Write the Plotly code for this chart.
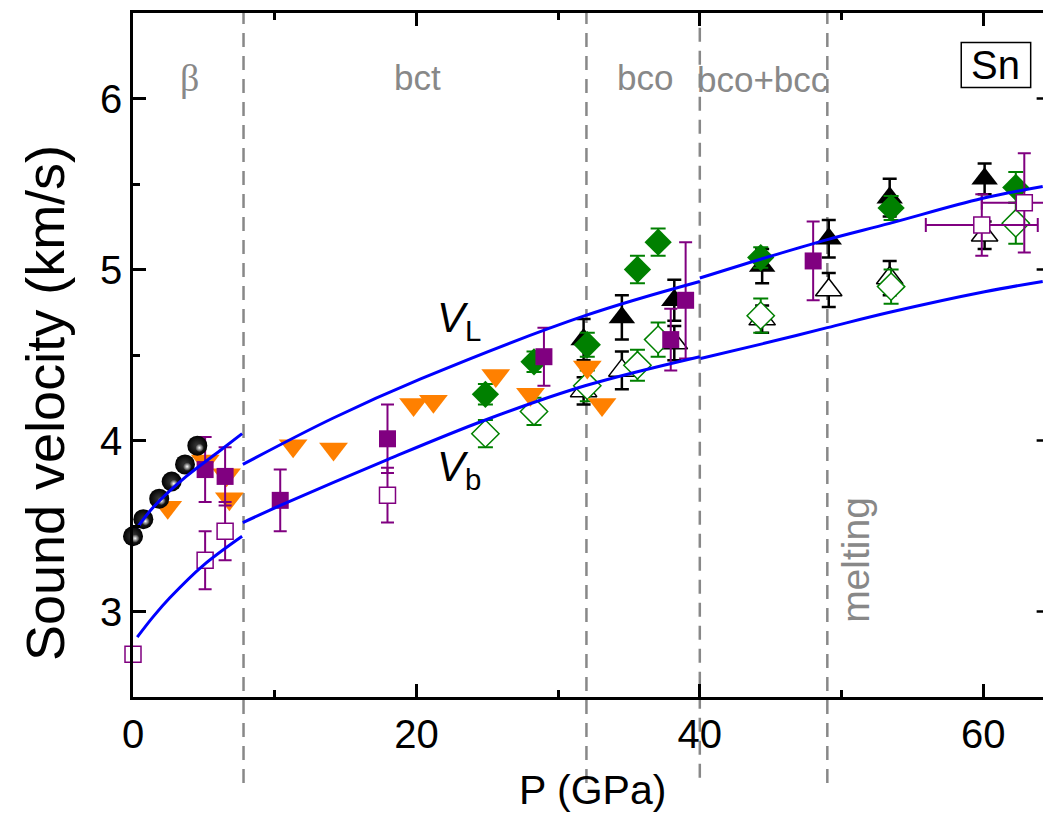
import plotly.graph_objects as go

# ---------------- data ----------------
sphere_p = [0.0, 0.73, 1.85, 2.73, 3.67, 4.54]
sphere_v = [3.44, 3.54, 3.66, 3.76, 3.86, 3.97]

orange_p = [2.45, 5.1, 6.6, 6.8, 11.3, 14.15, 19.8, 21.2, 25.6, 28.05, 32.06, 33.1]
orange_v = [3.61, 3.88, 3.80, 3.66, 3.97, 3.95, 4.21, 4.23, 4.38, 4.27, 4.43, 4.21]

purple_f_p = [5.09, 6.5, 10.39, 17.96, 29.0, 37.95, 39.0, 48.0]
purple_f_v = [3.83, 3.79, 3.65, 4.01, 4.49, 4.59, 4.82, 5.05]
purple_f_e = [0.19, 0.17, 0.18, 0.20, 0.17, 0.18, 0.34, 0.23]

purple_o_p = [0.0, 5.09, 6.5, 17.96, 59.9, 62.9]
purple_o_v = [2.75, 3.30, 3.47, 3.68, 5.26, 5.39]
purple_o_e = [0, 0.17, 0.17, 0.16, 0.18, 0.29]
purple_o_xe = [0, 0, 0, 0, 3.95, 3.0]

black_f_p = [31.8, 34.5, 38.2, 44.4, 49.1, 53.4, 60.1]
black_f_v = [4.59, 4.72, 4.82, 5.02, 5.18, 5.42, 5.53]
black_f_e = [0.12, 0.13, 0.12, 0.10, 0.11, 0.11, 0.09]

black_o_p = [31.8, 34.5, 38.2, 44.4, 49.1, 53.4, 60.1]
black_o_v = [4.29, 4.41, 4.57, 4.71, 4.88, 4.95, 5.20]
black_o_e = [0.08, 0.11, 0.10, 0.08, 0.10, 0.10, 0.08]

green_f_p = [24.87, 28.3, 32.06, 35.6, 37.06, 44.3, 53.5, 62.3]
green_f_v = [4.27, 4.46, 4.56, 5.00, 5.16, 5.07, 5.36, 5.48]
green_f_e = [0.06, 0.06, 0.07, 0.08, 0.08, 0.06, 0.07, 0.09]

green_o_p = [24.87, 28.3, 32.06, 35.6, 37.06, 44.3, 53.5, 62.3]
green_o_v = [4.04, 4.17, 4.32, 4.44, 4.59, 4.73, 4.90, 5.27]
green_o_e = [0.08, 0.08, 0.09, 0.09, 0.10, 0.10, 0.10, 0.12]

# model curves (V_L and V_b), piecewise per phase region
vl1_p = [0.3, 1.43, 3.76, 6.13, 7.7]
vl1_v = [3.49, 3.61, 3.79, 3.94, 4.04]
vb1_p = [0.3, 1.43, 2.6, 4.96, 7.7]
vb1_v = [2.85, 2.97, 3.08, 3.27, 3.44]
vl2_p = [7.75, 14.1, 20.3, 31.9, 40.0]
vl2_v = [3.86, 4.13, 4.36, 4.73, 4.93]
vb2_p = [7.75, 10.4, 18.0, 24.87, 31.9, 40.0]
vb2_v = [3.52, 3.62, 3.89, 4.12, 4.32, 4.49]
vl3_p = [40.0, 44.4, 49.0, 53.4, 59.9, 64.2]
vl3_v = [4.95, 5.063, 5.175, 5.27, 5.415, 5.485]
vb3_p = [40.05, 44.4, 49.0, 53.4, 60.1, 64.2]
vb3_v = [4.48, 4.565, 4.66, 4.75, 4.87, 4.93]

boundaries = [7.8, 32.0, 40.0, 49.0]
boundary_bottoms = [-0.1257, -0.1257, -0.118, -0.1257]

x_ticks = [0, 20, 40, 60]
y_ticks = [3, 4, 5, 6]

PURPLE = "#800080"
GREEN = "#008000"
ORANGE = "#FF8000"
BLUE = "#0000FF"
GRAY = "#888888"
FONT = "Liberation Sans, Arial, sans-serif"

fig = go.Figure()

# black filled triangles
fig.add_trace(go.Scatter(
    x=black_f_p, y=black_f_v, mode="markers", cliponaxis=False,
    marker=dict(symbol="triangle-up", size=23, color="black"),
    error_y=dict(type="data", array=black_f_e, color="black", thickness=2.5, width=7)))
# black open triangles (white-filled)
fig.add_trace(go.Scatter(
    x=black_o_p, y=black_o_v, mode="markers", cliponaxis=False,
    marker=dict(symbol="triangle-up", size=23, color="white", line=dict(color="black", width=1.5)),
    error_y=dict(type="data", array=black_o_e, color="black", thickness=2.5, width=7)))
# green open diamonds (white-filled so error bars stop at the outline)
fig.add_trace(go.Scatter(
    x=green_o_p, y=green_o_v, mode="markers", cliponaxis=False,
    marker=dict(symbol="diamond", size=21, color="white", line=dict(color=GREEN, width=1.5)),
    error_y=dict(type="data", array=green_o_e, color=GREEN, thickness=2, width=7.5)))
# green filled diamonds
fig.add_trace(go.Scatter(
    x=green_f_p, y=green_f_v, mode="markers", cliponaxis=False,
    marker=dict(symbol="diamond", size=21, color=GREEN),
    error_y=dict(type="data", array=green_f_e, color=GREEN, thickness=2, width=7.5)))
# orange down triangles
fig.add_trace(go.Scatter(
    x=orange_p, y=orange_v, mode="markers", cliponaxis=False,
    marker=dict(symbol="triangle-down", size=25, color=ORANGE)))
# purple filled squares
fig.add_trace(go.Scatter(
    x=purple_f_p, y=purple_f_v, mode="markers", cliponaxis=False,
    marker=dict(symbol="square", size=17, color=PURPLE),
    error_y=dict(type="data", array=purple_f_e, color=PURPLE, thickness=2, width=6.5)))
# purple open squares
fig.add_trace(go.Scatter(
    x=purple_o_p, y=purple_o_v, mode="markers", cliponaxis=False,
    marker=dict(symbol="square", size=16, color="white", line=dict(color=PURPLE, width=1.5)),
    error_y=dict(type="data", array=purple_o_e, color=PURPLE, thickness=2, width=6.5),
    error_x=dict(type="data", array=purple_o_xe, color=PURPLE, thickness=2, width=7)))
# black spheres
fig.add_trace(go.Scatter(
    x=sphere_p, y=sphere_v, mode="markers", cliponaxis=False,
    marker=dict(symbol="circle", size=20, color="black",
                gradient=dict(type="radial", color="#3c3c3c"),
                line=dict(width=0))))
fig.add_trace(go.Scatter(
    x=sphere_p, y=sphere_v, mode="markers", cliponaxis=False,
    marker=dict(symbol="circle", size=8, color="#303030", angle=-45, standoff=3,
                gradient=dict(type="radial", color="#ffffff"),
                line=dict(width=0))))

# blue model curves
for px, pv in [(vl1_p, vl1_v), (vb1_p, vb1_v), (vl2_p, vl2_v), (vb2_p, vb2_v), (vl3_p, vl3_v), (vb3_p, vb3_v)]:
    fig.add_trace(go.Scatter(x=px, y=pv, mode="lines", cliponaxis=False,
                             line=dict(color=BLUE, width=3, shape="spline")))

# dashed phase boundaries
for b, y0 in zip(boundaries, boundary_bottoms):
    fig.add_shape(type="line", xref="x", yref="paper", x0=b, x1=b, y0=y0, y1=1.0,
                  line=dict(color=GRAY, width=2.5, dash="14px,9px"), layer="below")

# right-edge tick stubs (axis itself lies just outside the picture)
for t in y_ticks:
    fig.add_shape(type="line", xref="paper", yref="y", x0=0.993, x1=1.0, y0=t, y1=t,
                  line=dict(color="black", width=2.5))

# Sn box
fig.add_shape(type="rect", xref="x", yref="y", x0=58.45, x1=63.35, y0=6.064, y1=6.327,
              line=dict(color="black", width=1.5), fillcolor="white")

ann = []
ann.append(dict(text="β", x=4.0, y=6.12, font=dict(family="Liberation Serif, serif", size=38, color=GRAY)))
ann.append(dict(text="bct", x=20.1, y=6.12, font=dict(family=FONT, size=35, color=GRAY)))
ann.append(dict(text="bco", x=36.1, y=6.12, font=dict(family=FONT, size=35, color=GRAY)))
ann.append(dict(text="bco+bcc", x=44.45, y=6.11, font=dict(family=FONT, size=35, color=GRAY)))
ann.append(dict(text="melting", x=51.0, y=3.30, textangle=-90, font=dict(family=FONT, size=39, color=GRAY)))
ann.append(dict(text="Sn", x=60.9, y=6.196, font=dict(family=FONT, size=40, color="black")))
ann.append(dict(text="<i>V</i><sub>L</sub>", x=21.3, y=4.70, xanchor="left", font=dict(family=FONT, size=42, color="black")))
ann.append(dict(text="<i>V</i><sub>b</sub>", x=21.3, y=3.83, xanchor="left", font=dict(family=FONT, size=42, color="black")))
for a in ann:
    a.setdefault("xanchor", "center")
    a.update(xref="x", yref="y", showarrow=False, yanchor="middle")
# axis titles
ann2 = [
    dict(text="P (GPa)", xref="x", yref="paper", x=32.4, y=-0.136, showarrow=False,
         xanchor="center", yanchor="middle", font=dict(family=FONT, size=41, color="black")),
    dict(text="Sound velocity (km/s)", xref="paper", yref="paper", x=-0.0965, y=0.43,
         textangle=-90, showarrow=False, xanchor="center", yanchor="middle",
         font=dict(family=FONT, size=54, color="black")),
]

fig.update_layout(
    width=1043, height=814, autosize=False,
    margin=dict(l=133, r=0, t=13, b=117, pad=0),
    paper_bgcolor="white", plot_bgcolor="white",
    showlegend=False,
    font=dict(family=FONT, color="black"),
    annotations=ann + ann2,
    xaxis=dict(range=[0, 64.22], tickvals=x_ticks, ticks="inside", ticklen=13, tickwidth=2.5,
               tickcolor="black", showline=True, linewidth=2.5, linecolor="black", mirror="ticks",
               showgrid=False, zeroline=False, tickfont=dict(size=40, family=FONT),
               minor=dict(dtick=10, tick0=0, ticks="inside", ticklen=7, tickwidth=2.5, tickcolor="black", showgrid=False)),
    yaxis=dict(range=[2.5, 6.5], tickvals=y_ticks, ticks="inside", ticklen=13, tickwidth=2.5,
               tickcolor="black", showline=True, linewidth=2.5, linecolor="black", mirror=False,
               showgrid=False, zeroline=False, tickfont=dict(size=40, family=FONT),
               minor=dict(dtick=0.5, tick0=2.5, ticks="inside", ticklen=7, tickwidth=2.5, tickcolor="black", showgrid=False)),
)

fig.write_html("out.html")
